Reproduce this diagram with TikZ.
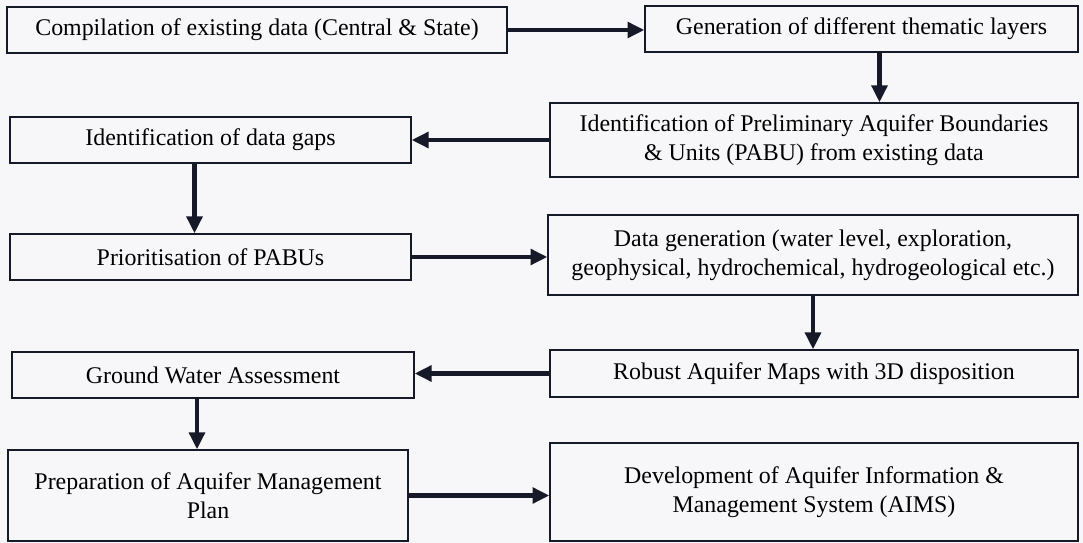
\documentclass[tikz,border=0pt]{standalone}
\usepackage{fontspec}
\setmainfont{Liberation Serif}
\usepackage{tikz}
\usetikzlibrary{positioning}
\usetikzlibrary{calc}
\usetikzlibrary{arrows.meta}

\definecolor{paper}{RGB}{247,246,248}
\definecolor{ink}{RGB}{22,26,40}

\begin{document}
\begin{tikzpicture}[box/.style={draw=ink, line width=0.9pt, align=center, inner sep=2pt, font=\fontsize{17}{20.5}\selectfont},
    flow/.style={draw=ink, line width=3pt, -{Triangle[length=12pt, width=11pt]}}]

    \fill[paper] (0,0) rectangle (27.075,-13.575);
    \useasboundingbox (0,0) rectangle (27.075,-13.575);

    \node[box, minimum width=12.5cm, minimum height=1.15cm] (comp) at (6.425,-0.75) {Compilation of existing data (Central \& State)};
    \node[box, minimum width=10.825cm, minimum height=1.15cm] (gen) at (21.5375,-0.725) {Generation of different thematic layers};

    \node[box, minimum width=13.2cm, minimum height=1.85cm] (abu) at (20.35,-3.5) {Identification of Preliminary Aquifer Boundaries\\ \& Units (PABU) from existing data};
    \node[box, minimum width=10.025cm, minimum height=1.15cm] (gaps) at (5.2625,-3.5) {Identification of data gaps};

    \node[box, minimum width=10.025cm, minimum height=1.15cm] (prio) at (5.2625,-6.425) {Prioritisation of PABUs};
    \node[box, minimum width=13.25cm, minimum height=2cm] (dgen) at (20.325,-6.375) {Data generation (water level, exploration,\\ geophysical, hydrochemical, hydrogeological etc.)};

    \node[box, minimum width=13.2cm, minimum height=1.175cm] (maps) at (20.35,-9.3375) {Robust Aquifer Maps with 3D disposition};
    \node[box, minimum width=10.05cm, minimum height=1.15cm] (gwa) at (5.325,-9.375) {Ground Water Assessment};

    \node[box, minimum width=10cm, minimum height=2.275cm] (plan) at (5.2,-12.3875) {Preparation of Aquifer Management\\ Plan};
    \node[box, minimum width=13.2cm, minimum height=2.45cm] (aims) at (20.35,-12.3) {Development of Aquifer Information \&\\ Management System (AIMS)};

    \draw[flow] (comp.east) -- (comp.east -| gen.west);
    \draw[flow] ([xshift=0.45cm]gen.south) -- ([xshift=0.45cm]gen.south |- abu.north);
    \draw[flow] (abu.west) -- (abu.west -| gaps.east);
    \draw[flow] ([xshift=-0.4cm]gaps.south) -- ([xshift=-0.4cm]gaps.south |- prio.north);
    \draw[flow] (prio.east) -- (prio.east -| dgen.west);
    \draw[flow] (dgen.south) -- (dgen.south |- maps.north);
    \draw[flow] (maps.west) -- (maps.west -| gwa.east);
    \draw[flow] ([xshift=-0.4cm]gwa.south) -- ([xshift=-0.4cm]gwa.south |- plan.north);
    \draw[flow] (plan.east) -- (plan.east -| aims.west);

\end{tikzpicture}
\end{document}
